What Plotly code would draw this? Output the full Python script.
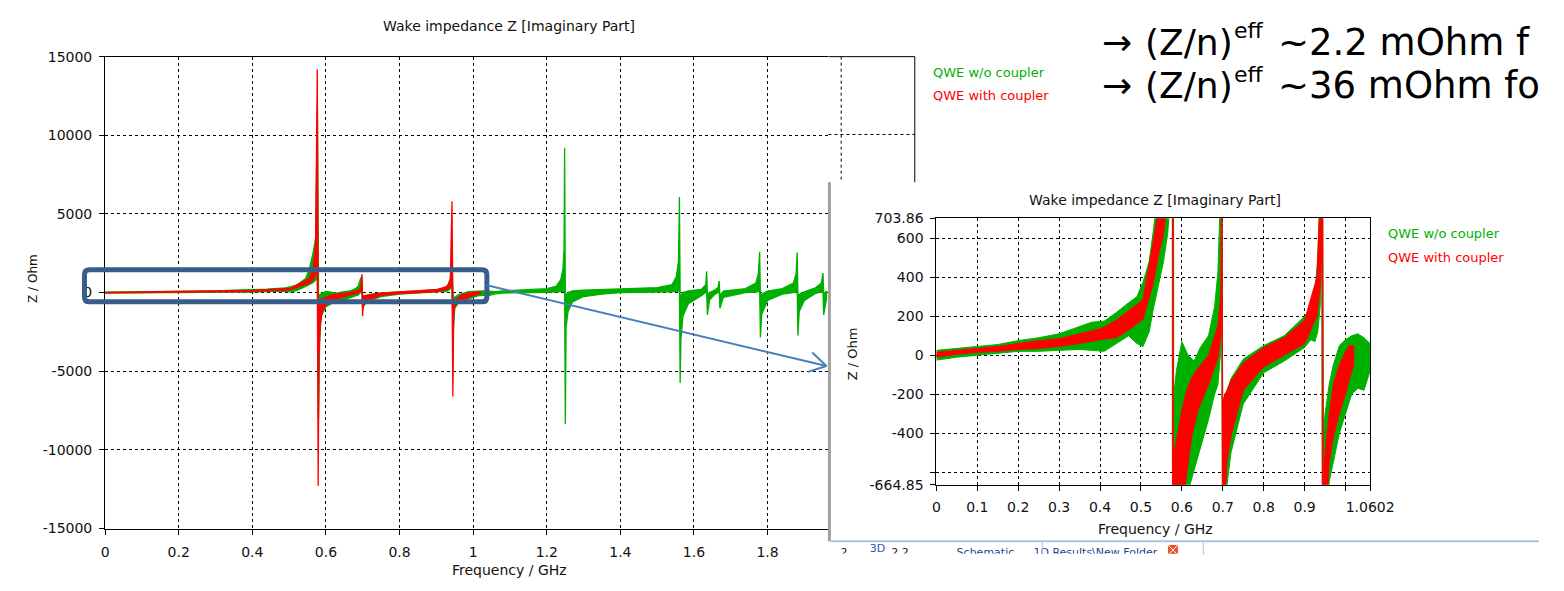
import plotly.graph_objects as go

W, H = 1564, 591

# ---------------- data ----------------
# QWE w/o coupler : frequency [GHz], upper / lower envelope of the dense trace [Ohm]
f_wo = [0.000, 0.050, 0.100, 0.150, 0.200, 0.250, 0.300, 0.350, 0.380, 0.410,
        0.440, 0.470, 0.490, 0.505, 0.520, 0.530, 0.545, 0.555, 0.565, 0.572,
        0.577, 0.580, 0.583, 0.587, 0.600, 0.615, 0.630, 0.645, 0.665, 0.680,
        0.688, 0.694, 0.697, 0.700, 0.705, 0.720, 0.750, 0.800, 0.850, 0.900,
        0.915, 0.925, 0.932, 0.938, 0.942, 0.946, 0.950, 0.960, 0.970, 0.985,
        1.000, 1.015, 1.030, 1.045, 1.060, 1.080, 1.120, 1.160, 1.200, 1.225,
        1.238, 1.244, 1.247, 1.2485, 1.2505, 1.2525, 1.258, 1.270, 1.300, 1.350,
        1.400, 1.450, 1.500, 1.540, 1.552, 1.558, 1.5605, 1.5625, 1.5645, 1.570,
        1.585, 1.620, 1.632, 1.6345, 1.6365, 1.642, 1.655, 1.665, 1.6685, 1.6705,
        1.680, 1.740, 1.768, 1.775, 1.7785, 1.7805, 1.784, 1.800, 1.840, 1.870,
        1.8775, 1.8805, 1.8825, 1.886, 1.900, 1.930, 1.946, 1.9505, 1.9525, 1.960]
up_wo = [25, 35, 45, 55, 75, 90, 110, 150, 170, 175,
         220, 270, 300, 375, 480, 635, 900, 1500, 2500, 3500,
         11700, -200, -150, -75, 70, 0, -30, 40, 100, 250,
         425, 900, 1000, -300, -220, -120, -20, 50, 100, 200,
         240, 320, 500, 900, 2000, -400, -300, -150, -50, 50,
         80, 100, 110, 90, 60, 100, 150, 180, 250, 400,
         800, 1500, 2800, 9200, -200, -150, 0, 100, 150, 200,
         250, 280, 320, 500, 1000, 2000, 6070, -300, -200, 0,
         100, 200, 500, 1360, -200, 0, 150, 300, 740, -200,
         100, 250, 600, 1200, 2600, -300, -100, 100, 250, 600,
         1200, 2540, -300, -100, 50, 300, 600, 1240, -100, 100]
lo_wo = [-25, -10, 0, 10, 20, 20, 25, 30, 25, 20,
         60, 100, 60, 45, 120, 235, 385, 480, 620, 800,
         1000, -8000, -3000, -1500, -900, -700, -600, -480, -330, -200,
         -150, 0, 200, -1000, -750, -500, -250, -90, -30, 40,
         80, 70, 120, 250, 600, -2500, -1000, -650, -550, -400,
         -300, -200, -170, -180, -80, -30, 0, 0, 20, 40,
         60, 80, 100, 150, -8350, -2200, -1200, -600, -250, -100,
         0, 20, 30, 50, 80, 100, 150, -5750, -3000, -1500,
         -700, -200, 0, 50, -1420, -500, -150, 0, 50, -1000,
         -300, 0, 30, 50, 80, -2850, -1400, -500, -100, 0,
         50, 80, -2720, -1200, -500, -50, 30, 60, -1420, -400]

# QWE with coupler
f_with = [0.000, 0.050, 0.100, 0.150, 0.200, 0.250, 0.300, 0.350, 0.400, 0.440,
          0.470, 0.505, 0.530, 0.545, 0.555, 0.565, 0.572, 0.5765, 0.579, 0.5795,
          0.581, 0.585, 0.590, 0.600, 0.612, 0.624, 0.640, 0.665, 0.688, 0.695,
          0.698, 0.6995, 0.701, 0.705, 0.710, 0.720, 0.750, 0.800, 0.850, 0.900,
          0.930, 0.938, 0.9425, 0.945, 0.947, 0.950, 0.960, 0.970, 0.985, 1.000,
          1.010, 1.020]
up_with = [15, 25, 35, 45, 60, 75, 85, 110, 135, 180,
           230, 285, 585, 750, 900, 1500, 3000, 14200, -600, -550,
           -500, -450, -400, -280, -180, -115, -65, 0, 150, 300,
           1170, -250, -230, -200, -180, -130, -40, 40, 90, 180,
           400, 800, 5800, -800, -600, -500, -300, -150, -50, 20,
           50, 50]
lo_with = [-10, 5, 15, 20, 30, 35, 45, 60, 80, 90,
           130, 185, 370, 535, 620, 800, 1200, 1500, -12300, -11200,
           -4000, -2000, -1200, -800, -600, -415, -280, -150, -15, 100,
           300, -1500, -900, -700, -550, -415, -180, -60, 0, 60,
           200, 350, 600, -6600, -1500, -900, -550, -420, -300, -200,
           -120, -50]

series_names = ["QWE w/o coupler", "QWE with coupler"]
series_colors = ["#00B000", "#FF0000"]

# axes / tick labels
main_xticks = [0, 0.2, 0.4, 0.6, 0.8, 1.0, 1.2, 1.4, 1.6, 1.8]
main_xtext = ["0", "0.2", "0.4", "0.6", "0.8", "1", "1.2", "1.4", "1.6", "1.8"]
main_yticks = [-15000, -10000, -5000, 0, 5000, 10000, 15000]
main_ytext = ["-15000", "-10000", "-5000", "0", "5000", "10000", "15000"]
main_xmax_full = 2.2
inset_xticks = [0, 0.1, 0.2, 0.3, 0.4, 0.5, 0.6, 0.7, 0.8, 0.9, 1.0602]
inset_xtext = ["0", "0.1", "0.2", "0.3", "0.4", "0.5", "0.6", "0.7", "0.8", "0.9", "1.0602"]
inset_xminor = [1.0]
inset_yticks = [-664.85, -400, -200, 0, 200, 400, 600, 703.86]
inset_ytext = ["-664.85", "-400", "-200", "0", "200", "400", "600", "703.86"]
inset_yminor = [-600]

# slide statements: (Z/n)^eff values, both lines cut by the slide's right edge
slide_values = ["~2.2 mOhm f", "~36 mOhm fo"]

# fragments of the window tab strip under the zoomed view (cut by the crop)
tab_text = ["2", "3D", "2.2", "Schematic", "1D Results\\New Folder"]
tab_x = [856, 890, 913, 1000, 1112]
tab_y = [560, 556, 560, 560, 560]
tab_color = ["#222222", "#3355AA", "#222222", "#1F3F8F", "#1F3F8F"]

# ---------------- helpers ----------------
def px(x):
    return x / W

def py(y):
    return 1 - y / H

FONT = "DejaVu Sans"

fig = go.Figure()

def band(f, up, lo, color, name, xa, ya, lw):
    fig.add_trace(go.Scatter(
        x=list(f) + list(f)[::-1], y=list(up) + list(lo)[::-1],
        mode="lines", fill="toself", fillcolor=color,
        line=dict(color=color, width=lw), name=name, showlegend=False,
        xaxis=xa, yaxis=ya, hoverinfo="skip"))

for xa, ya, lw in (("x", "y", 1.3), ("x2", "y2", 1.0)):
    band(f_wo, up_wo, lo_wo, series_colors[0], series_names[0], xa, ya, lw)
    band(f_with, up_with, lo_with, series_colors[1], series_names[1], xa, ya, lw)

# tab strip fragments, clipped by their own tiny subplot
fig.add_trace(go.Scatter(x=tab_x, y=tab_y, text=tab_text, mode="text",
                         textfont=dict(family=FONT, size=11, color=tab_color),
                         cliponaxis=True, xaxis="x3", yaxis="y3", hoverinfo="skip",
                         showlegend=False))
fig.add_trace(go.Scatter(x=[1191], y=[557], mode="markers",
                         marker=dict(symbol="square-x", size=11, color="#E8502F",
                                     line=dict(color="white", width=1)),
                         cliponaxis=True, xaxis="x3", yaxis="y3", hoverinfo="skip",
                         showlegend=False))

# main plot area: x 103..928 px for 0..2.2 GHz, but visible only up to 840 px
mx0, mx1_full, mx1 = 103, 928, 840
my0, my1 = 50, 535
main_xmax = main_xmax_full * (mx1 - mx0) / (mx1_full - mx0)

ix0, ix1, iy0, iy1 = 950, 1392, 216, 490

axis_common = dict(showline=True, linecolor="black", linewidth=1, ticks="outside",
                   ticklen=5, tickcolor="black", showgrid=True, gridcolor="black",
                   gridwidth=1, griddash="3px,3px", zeroline=False,
                   tickfont=dict(family=FONT, size=14, color="#111111"),
                   tickmode="array", fixedrange=True)

def minor(vals):
    return dict(tickmode="array", tickvals=vals, showgrid=True, gridcolor="black",
                gridwidth=1, griddash="3px,3px", ticks="outside", ticklen=5,
                tickcolor="black")

fig.update_layout(
    width=W, height=H, margin=dict(l=0, r=0, t=0, b=0),
    paper_bgcolor="white", plot_bgcolor="white", showlegend=False,
    xaxis=dict(domain=[px(mx0), px(mx1)], range=[0, main_xmax], anchor="y",
               tickvals=main_xticks, ticktext=main_xtext, mirror=True,
               ticklabelstandoff=6, **axis_common),
    yaxis=dict(domain=[py(my1), py(my0)], range=[-15000, 15000], anchor="x",
               tickvals=main_yticks, ticktext=main_ytext, mirror=False,
               ticklabelstandoff=4, **axis_common),
    xaxis2=dict(domain=[px(ix0), px(ix1)], range=[0, 1.0602], anchor="y2",
                tickvals=inset_xticks, ticktext=inset_xtext, mirror=True,
                ticklabelstandoff=4, minor=minor(inset_xminor), **axis_common),
    yaxis2=dict(domain=[py(iy1), py(iy0)], range=[-664.85, 703.86], anchor="x2",
                tickvals=inset_yticks, ticktext=inset_ytext, mirror=True,
                ticklabelstandoff=4, minor=minor(inset_yminor), **axis_common),
    xaxis3=dict(domain=[px(843), 1], range=[843, W], anchor="y3", visible=False,
                fixedrange=True),
    yaxis3=dict(domain=[py(561), py(549)], range=[561, 549], anchor="x3",
                visible=False, fixedrange=True),
)

ann = []
def text(x, y, s, size=14, color="#111111", xanchor="center", angle=0, family=FONT):
    ann.append(dict(x=px(x), y=py(y), xref="paper", yref="paper", text=s,
                    showarrow=False, xanchor=xanchor, yanchor="middle",
                    textangle=angle, font=dict(family=family, size=size, color=color)))

# main chart texts
text(515, 18, "Wake impedance Z [Imaginary Part]", 14)
text(515, 578, "Frequency / GHz", 14)
text(30, 278, "Z / Ohm", 12, angle=-90)
text(945, 66, series_names[0], 13, series_colors[0], "left")
text(945, 90, series_names[1], 13, series_colors[1], "left")
# inset texts
text(1173, 197, "Wake impedance Z [Imaginary Part]", 14)
text(1173, 535, "Frequency / GHz", 14)
text(864, 355, "Z / Ohm", 13, angle=-90)
text(1408, 232, series_names[0], 13, series_colors[0], "left")
text(1408, 256, series_names[1], 13, series_colors[1], "left")
# slide text (arrow, (Z/n), superscript "eff", value) per line
for ly, val in zip((35, 80), slide_values):
    text(1134, ly, "\u2192", 36, "#000000", "center")
    text(1161, ly, "(Z/n)", 36, "#000000", "left")
    text(1251, ly - 12, "eff", 22, "#000000", "left")
    text(1296, ly, val, 37, "#000000", "left")

shapes = []
def seg(x0, y0, x1, y1, color="black", width=1, dash="solid", layer="above"):
    shapes.append(dict(type="line", xref="paper", yref="paper",
                       x0=px(x0), y0=py(y0), x1=px(x1), y1=py(y1),
                       line=dict(color=color, width=width, dash=dash), layer=layer))

# part of the main chart frame peeking above the inset window
seg(mx1, my0, mx1_full, my0)
seg(mx1_full, my0, mx1_full, 179)
x2ghz = mx0 + (mx1_full - mx0) * 2.0 / main_xmax_full
seg(x2ghz, my0, x2ghz, 179, dash="3px,3px")
seg(mx1, 130, mx1_full, 130, dash="3px,3px")
# inset window frame and tab strip
seg(841, 179, 841, 548, color="#A0A0A0", width=3)
seg(842, 548, W, 548, color="#A9C4E6", width=2)
seg(1058, 548, 1058, 562, color="#A9C4E6", width=1)
seg(1222, 548, 1222, 562, color="#A9C4E6", width=1)

# highlight rectangle (rounded) around the low-frequency part
rx0, ry0, rx1, ry1, r = 82, 269, 492, 302, 5
path = (f"M {px(rx0 + r)},{py(ry0)} L {px(rx1 - r)},{py(ry0)} "
        f"Q {px(rx1)},{py(ry0)} {px(rx1)},{py(ry0 + r)} L {px(rx1)},{py(ry1 - r)} "
        f"Q {px(rx1)},{py(ry1)} {px(rx1 - r)},{py(ry1)} L {px(rx0 + r)},{py(ry1)} "
        f"Q {px(rx0)},{py(ry1)} {px(rx0)},{py(ry1 - r)} L {px(rx0)},{py(ry0 + r)} "
        f"Q {px(rx0)},{py(ry0)} {px(rx0 + r)},{py(ry0)} Z")
shapes.append(dict(type="path", xref="paper", yref="paper", path=path,
                   line=dict(color="#385D8A", width=5), layer="above"))

# arrow to the zoomed view
seg(492, 285, 838, 368, color="#4A7EBB", width=2)
seg(838, 368, 823.5, 354, color="#4A7EBB", width=2)
seg(838, 368, 819, 374, color="#4A7EBB", width=2)

fig.update_layout(annotations=ann, shapes=shapes)
fig.write_html("out.html")
